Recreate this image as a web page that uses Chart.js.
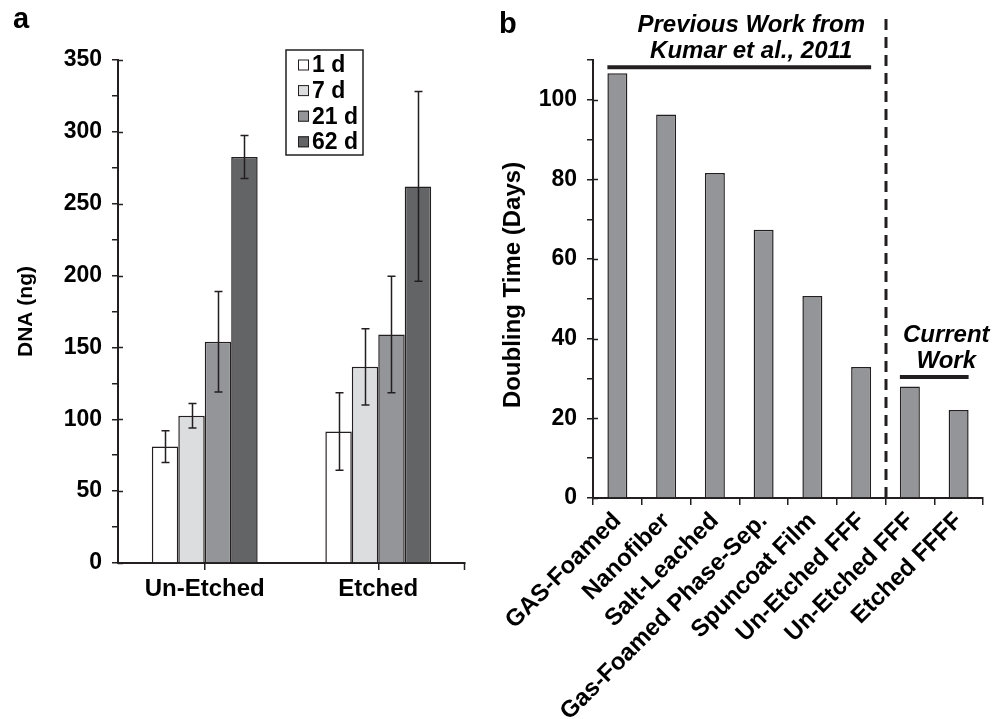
<!DOCTYPE html>
<html>
<head>
<meta charset="utf-8">
<script src="https://cdn.jsdelivr.net/npm/chart.js@4.4.1/dist/chart.umd.min.js"></script>
<style>
  html, body { margin: 0; padding: 0; background: #fff; }
  #wrap { position: relative; width: 992px; height: 719px; }
  #boxA { position: absolute; left: 0; top: 0; width: 480px; height: 719px; }
  #boxB { position: absolute; left: 480px; top: 0; width: 512px; height: 719px; }
</style>
</head>
<body>
<div id="wrap">
  <div id="boxA"><canvas id="chartA"></canvas></div>
  <div id="boxB"><canvas id="chartB"></canvas></div>
</div>
<script>
var FONT = "'Liberation Sans', Arial, sans-serif";
var INK = '#231f20';

// ---- panel a : DNA content
var groupLabels = ['Un-Etched', 'Etched'];
var dayLabels = ['1 d', '7 d', '21 d', '62 d'];
var dayColors = ['#ffffff', '#dcdddf', '#939598', '#636466'];
var dna1d = [81, 91.5];
var dna7d = [102.5, 136.5];
var dna21d = [154, 159];
var dna62d = [282.5, 262];
var err1d = [11, 27];
var err7d = [8.5, 26.5];
var err21d = [35, 40.5];
var err62d = [15, 66];
var dnaMax = 350, dnaStep = 25, dnaLabelStep = 50;

// ---- panel b : doubling time
var scaffoldLabels = ['GAS-Foamed', 'Nanofiber', 'Salt-Leached', 'Gas-Foamed Phase-Sep.',
                      'Spuncoat Film', 'Un-Etched FFF', 'Un-Etched FFF', 'Etched FFFF'];
var doublingTime = [106.7, 96.3, 81.6, 67.4, 50.7, 32.9, 28.0, 22.1];
var timeMax = 110, timeStep = 10, timeLabelStep = 20;
var timeTitle = 'Doubling Time (Days)';
var bracketText = [['Previous Work from', 'Kumar et al., 2011'], ['Current', 'Work']];
var bracketFrom = [0, 6];
var bracketTo = [5, 7];
var bracketLevel = [108.2, 30.4];

Chart.defaults.font.family = FONT;
Chart.defaults.font.weight = 'bold';
Chart.defaults.color = '#000';

// inner half of the labelled ticks (they cross the axis)
function crossTicks(chart, labelStep) {
  var ctx = chart.ctx, y = chart.scales.y, a = chart.chartArea;
  ctx.save();
  ctx.strokeStyle = INK;
  ctx.lineWidth = 1.5;
  y.ticks.forEach(function (t) {
    if (t.value % labelStep !== 0) return;
    var py = Math.round(y.getPixelForValue(t.value)) + 0.5;
    ctx.beginPath();
    ctx.moveTo(a.left, py);
    ctx.lineTo(a.left + 5, py);
    ctx.stroke();
  });
  ctx.restore();
}

function panelLetter(chart, txt, x, y) {
  var ctx = chart.ctx;
  ctx.save();
  ctx.font = 'bold 29px ' + FONT;
  ctx.fillStyle = '#000';
  ctx.textAlign = 'left';
  ctx.textBaseline = 'alphabetic';
  ctx.fillText(txt, x, y);
  ctx.restore();
}

var errorBars = {
  id: 'errorBars',
  afterDatasetsDraw: function (chart) {
    var ctx = chart.ctx, y = chart.scales.y;
    ctx.save();
    ctx.strokeStyle = INK;
    ctx.lineWidth = 1.5;
    chart.data.datasets.forEach(function (ds, i) {
      chart.getDatasetMeta(i).data.forEach(function (bar, j) {
        var top = y.getPixelForValue(ds.data[j] + ds.errors[j]);
        var bot = y.getPixelForValue(ds.data[j] - ds.errors[j]);
        var x = Math.round(bar.x) + 0.5;
        ctx.beginPath();
        ctx.moveTo(x, top); ctx.lineTo(x, bot);
        ctx.moveTo(x - 4, top); ctx.lineTo(x + 4, top);
        ctx.moveTo(x - 4, bot); ctx.lineTo(x + 4, bot);
        ctx.stroke();
      });
    });
    ctx.restore();
  }
};

var decorA = {
  id: 'decorA',
  afterDraw: function (chart) {
    var ctx = chart.ctx, a = chart.chartArea;
    crossTicks(chart, dnaLabelStep);
    // tick at right end of x axis
    ctx.save();
    ctx.strokeStyle = INK;
    ctx.lineWidth = 1.5;
    ctx.beginPath();
    ctx.moveTo(a.right - 0.5, a.bottom);
    ctx.lineTo(a.right - 0.5, a.bottom + 7);
    ctx.stroke();

    // legend box
    var x0 = a.left + 168, y0 = a.top - 10;
    ctx.fillStyle = '#fff';
    ctx.fillRect(x0, y0, 77, 105);
    ctx.strokeRect(x0, y0, 77, 105);
    ctx.font = 'bold 23px ' + FONT;
    ctx.textBaseline = 'middle';
    ctx.textAlign = 'left';
    chart.data.datasets.forEach(function (ds, i) {
      var cy = y0 + 15 + i * 25.6;
      ctx.fillStyle = ds.backgroundColor;
      ctx.fillRect(x0 + 12, cy - 5.5, 11, 11);
      ctx.lineWidth = 1;
      ctx.strokeRect(x0 + 12.5, cy - 5, 10, 10);
      ctx.fillStyle = '#000';
      ctx.fillText(ds.label, x0 + 26, cy + 1);
    });
    ctx.restore();
    panelLetter(chart, 'a', 13, 28);
  }
};

var decorB = {
  id: 'decorB',
  afterDraw: function (chart) {
    var ctx = chart.ctx, a = chart.chartArea, y = chart.scales.y;
    var bars = chart.getDatasetMeta(0).data;
    crossTicks(chart, timeLabelStep);
    ctx.save();
    ctx.strokeStyle = INK;

    // dashed divider between previous and current work
    var xd = Math.round((bars[5].x + bars[6].x) / 2);
    ctx.lineWidth = 3;
    ctx.setLineDash([11, 7]);
    ctx.beginPath();
    ctx.moveTo(xd, 19);
    ctx.lineTo(xd, a.bottom);
    ctx.stroke();
    ctx.setLineDash([]);

    ctx.font = 'italic bold 24px ' + FONT;
    ctx.fillStyle = '#000';
    ctx.textAlign = 'center';
    ctx.textBaseline = 'alphabetic';
    bracketText.forEach(function (lines, k) {
      var b0 = bars[bracketFrom[k]], b1 = bars[bracketTo[k]];
      var x0 = b0.x - b0.width / 2, x1 = b1.x + b1.width / 2;
      var ly = y.getPixelForValue(bracketLevel[k]);
      ctx.lineWidth = 4;
      ctx.beginPath();
      ctx.moveTo(x0, ly);
      ctx.lineTo(x1, ly);
      ctx.stroke();
      var cx = (x0 + x1) / 2 + 12;
      lines.forEach(function (t, n) {
        ctx.fillText(t, cx, ly - 9 - (lines.length - 1 - n) * 26);
      });
    });

    // y axis title
    ctx.translate(33, 285);
    ctx.rotate(-Math.PI / 2);
    ctx.font = 'bold 24px ' + FONT;
    ctx.textBaseline = 'middle';
    ctx.fillText(timeTitle, 0, 0);
    ctx.restore();
    panelLetter(chart, 'b', 19, 33);
  }
};

var dnaSeries = [dna1d, dna7d, dna21d, dna62d];
var dnaErrors = [err1d, err7d, err21d, err62d];

var chartA = new Chart(document.getElementById('chartA'), {
  type: 'bar',
  data: {
    labels: groupLabels,
    datasets: dnaSeries.map(function (vals, i) {
      return {
        label: dayLabels[i],
        data: vals,
        errors: dnaErrors[i],
        backgroundColor: dayColors[i],
        borderColor: INK,
        borderWidth: 1.5,
        categoryPercentage: 0.61,
        barPercentage: 1
      };
    })
  },
  options: {
    responsive: true,
    maintainAspectRatio: false,
    animation: false,
    layout: { padding: { left: 0, right: 15, top: 60, bottom: 0 } },
    plugins: { legend: { display: false }, tooltip: { enabled: false } },
    scales: {
      x: {
        grid: { offset: false, drawOnChartArea: false, tickLength: 7, color: INK, lineWidth: 1.5 },
        border: { color: INK, width: 2 },
        ticks: { font: { size: 24, weight: 'bold' }, color: '#000', padding: 5 },
        afterFit: function (s) { s.height = 156; }
      },
      y: {
        min: 0,
        max: dnaMax,
        grid: { drawOnChartArea: false, tickLength: 6, color: INK, lineWidth: 1.5 },
        border: { color: INK, width: 2 },
        ticks: {
          stepSize: dnaStep,
          padding: 10,
          color: '#000',
          font: { size: 23, weight: 'bold' },
          callback: function (v) { return v % dnaLabelStep === 0 ? v : ''; }
        },
        title: { display: true, text: 'DNA (ng)', color: '#000', font: { size: 21, weight: 'bold' }, padding: { top: 14, bottom: 0 } },
        afterFit: function (s) { s.width = 118; }
      }
    }
  },
  plugins: [errorBars, decorA]
});

var chartB = new Chart(document.getElementById('chartB'), {
  type: 'bar',
  data: {
    labels: scaffoldLabels,
    datasets: [{
      label: 'Doubling Time',
      data: doublingTime,
      backgroundColor: '#939598',
      borderColor: INK,
      borderWidth: 1.5,
      categoryPercentage: 1,
      barPercentage: 0.41
    }]
  },
  options: {
    responsive: true,
    maintainAspectRatio: false,
    animation: false,
    layout: { padding: { left: 0, right: 9, top: 60, bottom: 0 } },
    plugins: { legend: { display: false }, tooltip: { enabled: false } },
    scales: {
      x: {
        grid: { drawOnChartArea: false, tickLength: 7, color: INK, lineWidth: 1.5 },
        border: { color: INK, width: 2 },
        ticks: { autoSkip: false, minRotation: 45, maxRotation: 45, padding: 2, color: '#000', font: { size: 24, weight: 'bold' } },
        afterFit: function (s) { s.height = 221; }
      },
      y: {
        min: 0,
        max: timeMax,
        grid: { drawOnChartArea: false, tickLength: 6, color: INK, lineWidth: 1.5 },
        border: { color: INK, width: 2 },
        ticks: {
          stepSize: timeStep,
          padding: 10,
          color: '#000',
          font: { size: 23, weight: 'bold' },
          callback: function (v) { return v % timeLabelStep === 0 ? v : ''; }
        },
        title: { display: false },
        afterFit: function (s) { s.width = 113; }
      }
    }
  },
  plugins: [decorB]
});
</script>
</body>
</html>
